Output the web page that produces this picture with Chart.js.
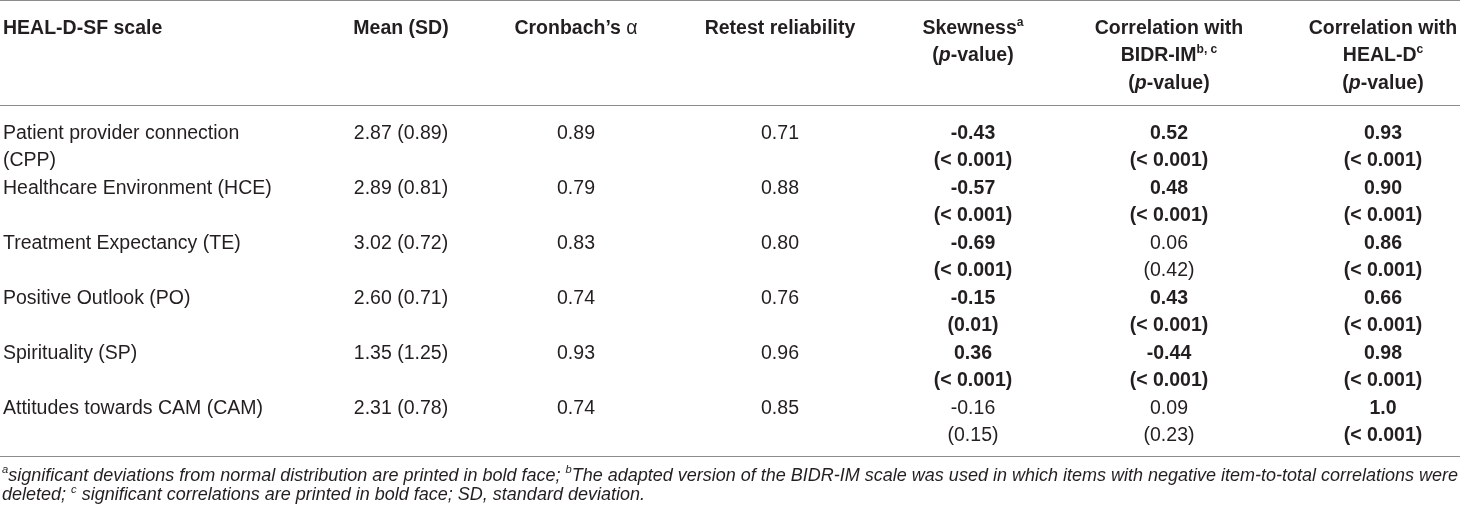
<!DOCTYPE html>
<html><head><meta charset="utf-8">
<script src="https://cdn.jsdelivr.net/npm/chart.js@4.4.1/dist/chart.umd.min.js"></script>
<style>html,body{margin:0;padding:0;background:#fff}#wrap{position:relative;width:1460px;height:513px}</style>
</head><body><div id="wrap"><canvas id="c"></canvas></div>
<script>
// ---------- DATA ----------
const headers = [
  ["HEAL-D-SF scale"],
  ["Mean (SD)"],
  ["Cronbach\u2019s ~{\u03b1}"],
  ["Retest reliability"],
  ["Skewness^{a}", "(_{p}-value)"],
  ["Correlation with", "BIDR-IM^{b, c}", "(_{p}-value)"],
  ["Correlation with", "HEAL-D^{c}", "(_{p}-value)"]
];
const scaleNames = [
  ["Patient provider connection", "(CPP)"],
  ["Healthcare Environment (HCE)"],
  ["Treatment Expectancy (TE)"],
  ["Positive Outlook (PO)"],
  ["Spirituality (SP)"],
  ["Attitudes towards CAM (CAM)"]
];
const meanSD = ["2.87 (0.89)", "2.89 (0.81)", "3.02 (0.72)", "2.60 (0.71)", "1.35 (1.25)", "2.31 (0.78)"];
const cronbachAlpha = ["0.89", "0.79", "0.83", "0.74", "0.93", "0.74"];
const retestReliability = ["0.71", "0.88", "0.80", "0.76", "0.96", "0.85"];
const skewness = ["-0.43", "-0.57", "-0.69", "-0.15", "0.36", "-0.16"];
const skewnessP = ["< 0.001", "< 0.001", "< 0.001", "0.01", "< 0.001", "0.15"];
const skewnessSig = [true, true, true, true, true, false];
const corrBIDR = ["0.52", "0.48", "0.06", "0.43", "-0.44", "0.09"];
const corrBIDRP = ["< 0.001", "< 0.001", "0.42", "< 0.001", "< 0.001", "0.23"];
const corrBIDRSig = [true, true, false, true, true, false];
const corrHEALD = ["0.93", "0.90", "0.86", "0.66", "0.98", "1.0"];
const corrHEALDP = ["< 0.001", "< 0.001", "< 0.001", "< 0.001", "< 0.001", "< 0.001"];
const corrHEALDSig = [true, true, true, true, true, true];
const footnotes = [
  "^{a}significant deviations from normal distribution are printed in bold face; ^{b}The adapted version of the BIDR-IM scale was used in which items with negative item-to-total correlations were",
  "deleted; ^{c} significant correlations are printed in bold face; SD, standard deviation."
];

// ---------- LAYOUT / STYLE ----------
const LAYOUT = {
  colX: [3, 401, 576, 780, 973, 1169, 1383],
  colAlign: ['left', 'center', 'center', 'center', 'center', 'center', 'center'],
  headerY: 27, lineH: 27.3, bodyY: 132, rowH: 54.9,
  rules: [0.5, 105.5, 456.5],
  footY: 474.5, footLineH: 19.5, footX: 2,
  fontSize: 19.5, footSize: 18,
  textColor: '#231f20', ruleColor: '#8c8c8c'
};
const FAMILY = '"Liberation Sans", Arial, Helvetica, sans-serif';

// build cell grid from the arrays
function cellsForRow(r) {
  return [
    scaleNames[r].map(t => ({ t, b: false })),
    [{ t: meanSD[r], b: false }],
    [{ t: cronbachAlpha[r], b: false }],
    [{ t: retestReliability[r], b: false }],
    [{ t: skewness[r], b: skewnessSig[r] }, { t: '(' + skewnessP[r] + ')', b: skewnessSig[r] }],
    [{ t: corrBIDR[r], b: corrBIDRSig[r] }, { t: '(' + corrBIDRP[r] + ')', b: corrBIDRSig[r] }],
    [{ t: corrHEALD[r], b: corrHEALDSig[r] }, { t: '(' + corrHEALDP[r] + ')', b: corrHEALDSig[r] }]
  ];
}

function parseRich(s) {
  const segs = []; let i = 0, buf = '';
  while (i < s.length) {
    if ((s[i] === '^' || s[i] === '_' || s[i] === '~') && s[i + 1] === '{') {
      if (buf) { segs.push({ t: buf }); buf = ''; }
      const end = s.indexOf('}', i);
      const inner = s.slice(i + 2, end);
      if (s[i] === '^') segs.push({ t: inner, sup: true });
      else if (s[i] === '_') segs.push({ t: inner, it: true });
      else segs.push({ t: inner, reg: true });
      i = end + 1;
    } else { buf += s[i]; i++; }
  }
  if (buf) segs.push({ t: buf });
  return segs;
}
function fontFor(seg, size, bold, italic) {
  const sz = seg.sup ? size * 0.62 : size;
  return ((italic || seg.it) ? 'italic ' : '') + ((bold && !seg.reg) ? 'bold ' : '') + sz + 'px ' + FAMILY;
}
function drawRich(ctx, str, x, yCenter, align, size, bold, italic) {
  const segs = parseRich(str);
  let w = 0;
  segs.forEach(s => { ctx.font = fontFor(s, size, bold, italic); s.w = ctx.measureText(s.t).width; w += s.w; });
  let sx = align === 'center' ? x - w / 2 : x;
  const base = yCenter + size * 0.36;
  segs.forEach(s => {
    ctx.font = fontFor(s, size, bold, italic);
    ctx.fillText(s.t, sx, s.sup ? base - size * 0.42 : base);
    sx += s.w;
  });
}

const tablePlugin = {
  id: 'tableDraw',
  afterDraw(chart) {
    const { ctx, scales: { x, y } } = chart;
    const L = LAYOUT;
    ctx.save();
    ctx.textBaseline = 'alphabetic';
    ctx.textAlign = 'left';
    ctx.fillStyle = L.textColor;
    // horizontal rules
    ctx.strokeStyle = L.ruleColor; ctx.lineWidth = 1.2;
    L.rules.forEach(v => {
      const py = y.getPixelForValue(v);
      ctx.beginPath(); ctx.moveTo(x.getPixelForValue(x.min), py); ctx.lineTo(x.getPixelForValue(x.max), py); ctx.stroke();
    });
    // header
    headers.forEach((lines, c) => {
      lines.forEach((t, k) => {
        drawRich(ctx, t, x.getPixelForValue(L.colX[c]), y.getPixelForValue(L.headerY + k * L.lineH), L.colAlign[c], L.fontSize, true, false);
      });
    });
    // body
    for (let r = 0; r < scaleNames.length; r++) {
      const cells = cellsForRow(r);
      cells.forEach((lines, c) => {
        lines.forEach((seg, k) => {
          drawRich(ctx, seg.t, x.getPixelForValue(L.colX[c]), y.getPixelForValue(L.bodyY + r * L.rowH + k * L.lineH), L.colAlign[c], L.fontSize, seg.b, false);
        });
      });
    }
    // footnotes
    footnotes.forEach((t, k) => {
      drawRich(ctx, t, x.getPixelForValue(L.footX), y.getPixelForValue(L.footY + k * L.footLineH), 'left', L.footSize, false, true);
    });
    ctx.restore();
  }
};

new Chart(document.getElementById('c'), {
  type: 'scatter',
  data: { datasets: [] },
  options: {
    responsive: true, maintainAspectRatio: false, animation: false,
    layout: { padding: 0 },
    plugins: { legend: { display: false }, tooltip: { enabled: false } },
    scales: {
      x: { type: 'linear', min: 0, max: 1460, display: false },
      y: { type: 'linear', min: 0, max: 513, reverse: true, display: false }
    }
  },
  plugins: [tablePlugin]
});
</script></body></html>
